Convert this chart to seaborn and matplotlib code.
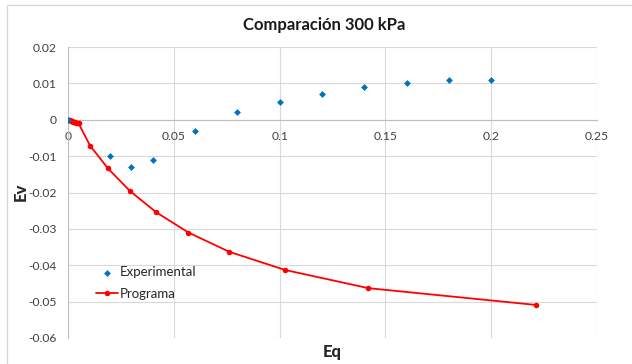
import numpy as np
import pandas as pd
import seaborn as sns
from matplotlib import pyplot as plt
from matplotlib.patches import Rectangle

# experimental points
exp_eq = [0.0, 0.02, 0.03, 0.04, 0.06, 0.08, 0.10, 0.12, 0.14, 0.16, 0.18, 0.20]
exp_ev = [0.0, -0.010, -0.013, -0.011, -0.003, 0.002, 0.005, 0.007, 0.009, 0.010, 0.011, 0.011]

# program curve
prog_eq = [0.0, 0.0005, 0.001, 0.0015, 0.002, 0.0025, 0.003, 0.0035, 0.004, 0.0045, 0.005,
           0.0104, 0.0189, 0.0293, 0.0416, 0.0569, 0.0762, 0.1026, 0.142, 0.221]
prog_ev = [0.0, -0.0001, -0.0002, -0.0003, -0.0004, -0.0005, -0.0006, -0.0007, -0.0008, -0.0009, -0.0010,
           -0.0071, -0.0134, -0.0196, -0.0254, -0.0310, -0.0363, -0.0413, -0.0463, -0.0509]

x_ticks = [0, 0.05, 0.1, 0.15, 0.2, 0.25]
x_labels = ["0", "0.05", "0.1", "0.15", "0.2", "0.25"]
y_ticks = [0.02, 0.01, 0, -0.01, -0.02, -0.03, -0.04, -0.05, -0.06]
y_labels = ["0.02", "0.01", "0", "-0.01", "-0.02", "-0.03", "-0.04", "-0.05", "-0.06"]

sns.set_style("white")
plt.rcParams["font.family"] = ["Lato", "DejaVu Sans"]

exp_df = pd.DataFrame({"Eq": exp_eq, "Ev": exp_ev})
prog_df = pd.DataFrame({"Eq": prog_eq, "Ev": prog_ev})

fig = plt.figure(figsize=(6.32, 3.64), dpi=100)
ax = fig.add_axes([68 / 632, 1 - 338 / 364, 529 / 632, 291 / 364])

sns.lineplot(ax=ax, data=prog_df, x="Eq", y="Ev", color="#ff0000", lw=1.3,
             marker="o", markersize=4, markeredgewidth=0, label="Programa", sort=False)
sns.scatterplot(ax=ax, data=exp_df, x="Eq", y="Ev", color="#0070c0", marker="D",
                s=12, linewidth=0, label="Experimental", zorder=5)

ax.set_xlim(0, 0.25)
ax.set_ylim(-0.06, 0.02)
ax.set_xticks(x_ticks, x_labels)
ax.set_yticks(y_ticks, y_labels)
ax.grid(True, color="#d9d9d9", lw=0.8)
ax.tick_params(length=0, labelsize=8.7, colors="#404040")
ax.tick_params(axis="x", pad=8)
ax.tick_params(axis="y", pad=8)
for s in ["top", "right"]:
    ax.spines[s].set_visible(False)
ax.spines["bottom"].set_position(("data", 0))
ax.spines["bottom"].set_color("#bfbfbf")
ax.spines["left"].set_color("#bfbfbf")
ax.spines["bottom"].set_zorder(1)

ax.set_xlabel("")
ax.set_ylabel("")
fig.text(0.5 * (68 + 597) / 632 - 0.0, 1 - 352 / 364, "Eq", ha="center", va="center",
         fontsize=12, fontweight="black")
fig.text(21 / 632, 1 - 192 / 364, "Ev", ha="center", va="center", rotation=90,
         fontsize=12, fontweight="black")
fig.text(324 / 632, 1 - 25 / 364, "Comparación 300 kPa", ha="center", va="center",
         fontsize=12, fontweight="bold", color="#1a1a1a")

handles, labels = ax.get_legend_handles_labels()
ax.legend(handles[::-1], labels[::-1], loc="lower left", bbox_to_anchor=(0.03, 0.09),
          frameon=False, fontsize=9.5, handlelength=1.7, handletextpad=0.1, labelspacing=0.75,
          labelcolor="#262626")

fig.patches.append(Rectangle((7 / 632, -0.1), 1.2, 1 - 5 / 364 + 0.1, transform=fig.transFigure,
                             fill=False, edgecolor="#d9d9d9", lw=1))

plt.savefig("out.png", dpi=100)
